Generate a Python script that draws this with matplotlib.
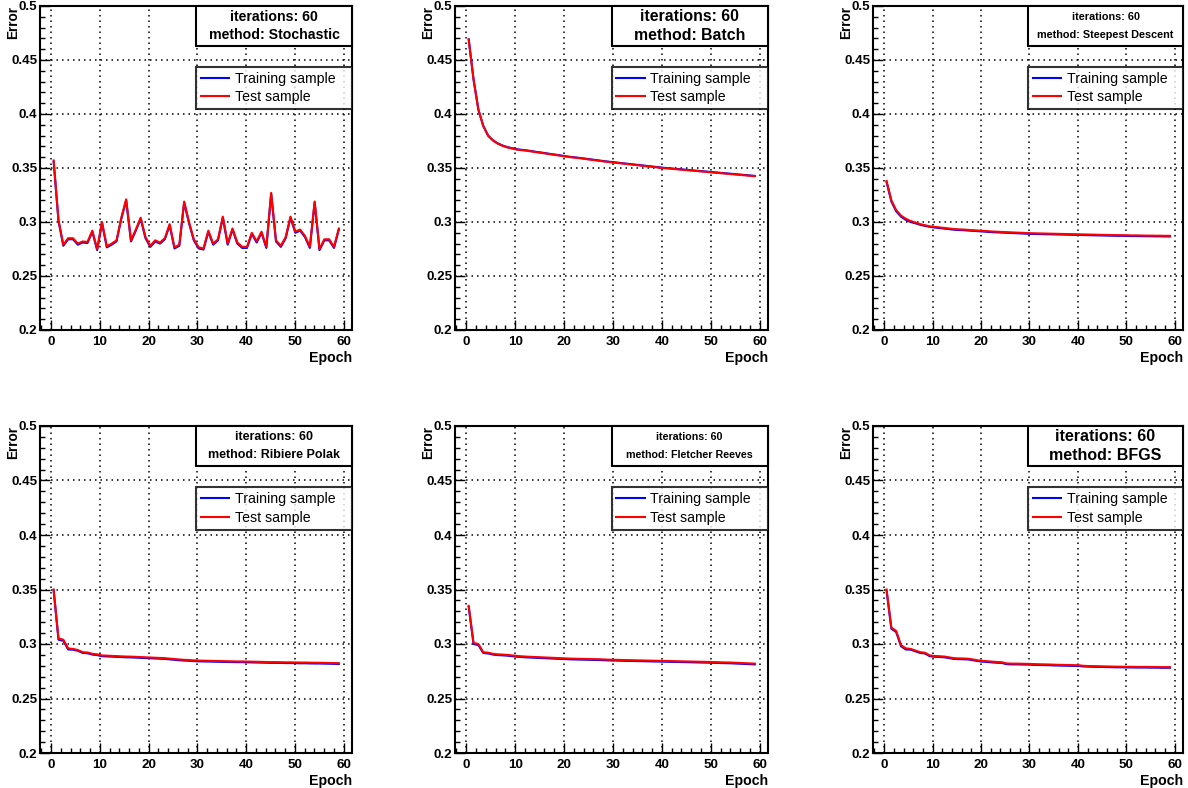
import matplotlib
matplotlib.use("Agg")
import matplotlib.pyplot as plt
from matplotlib.patches import Rectangle
from matplotlib.ticker import MultipleLocator, FuncFormatter
import numpy as np

plt.rcParams['font.family'] = ['Liberation Sans', 'DejaVu Sans']

epochs = np.linspace(0.5, 59, 60)

stochastic_test = [
    0.357, 0.302, 0.279, 0.285, 0.285, 0.280, 0.282, 0.2815, 0.292, 0.275,
    0.300, 0.2775, 0.280, 0.283, 0.304, 0.321, 0.283, 0.293, 0.304, 0.286,
    0.278, 0.283, 0.281, 0.285, 0.298, 0.2765, 0.279, 0.319, 0.300, 0.284,
    0.2765, 0.2755, 0.292, 0.280, 0.284, 0.305, 0.280, 0.294, 0.281, 0.277,
    0.277, 0.290, 0.282, 0.291, 0.277, 0.327, 0.283, 0.278, 0.286, 0.305,
    0.291, 0.293, 0.287, 0.277, 0.319, 0.275, 0.284, 0.284, 0.277, 0.294]
stochastic_train = [
    0.356, 0.301, 0.278, 0.284, 0.284, 0.279, 0.281, 0.2805, 0.291, 0.274,
    0.299, 0.2765, 0.279, 0.282, 0.303, 0.320, 0.282, 0.292, 0.303, 0.285,
    0.277, 0.282, 0.280, 0.284, 0.297, 0.2755, 0.278, 0.318, 0.299, 0.283,
    0.2755, 0.2745, 0.291, 0.279, 0.283, 0.304, 0.279, 0.293, 0.280, 0.276,
    0.276, 0.289, 0.281, 0.290, 0.276, 0.326, 0.282, 0.277, 0.285, 0.304,
    0.290, 0.292, 0.286, 0.276, 0.318, 0.274, 0.283, 0.283, 0.276, 0.293]

batch_test = [
    0.469, 0.432, 0.404, 0.389, 0.380, 0.3755, 0.3725, 0.3705, 0.369, 0.368,
    0.367, 0.3665, 0.366, 0.3653, 0.3646, 0.364, 0.3633, 0.3626, 0.362, 0.3613,
    0.3606, 0.360, 0.3595, 0.359, 0.3584, 0.3578, 0.3572, 0.3566, 0.356, 0.3555,
    0.355, 0.3545, 0.354, 0.3535, 0.353, 0.3525, 0.352, 0.3515, 0.351, 0.3505,
    0.350, 0.3496, 0.3492, 0.3488, 0.3484, 0.348, 0.3476, 0.3472, 0.3468, 0.3464,
    0.346, 0.3456, 0.3452, 0.3448, 0.3444, 0.344, 0.3436, 0.3432, 0.3428, 0.3424]
batch_train = [
    0.469, 0.432, 0.404, 0.389, 0.380, 0.3757, 0.3728, 0.3708, 0.3693, 0.3683,
    0.3673, 0.3668, 0.3663, 0.3656, 0.3649, 0.3643, 0.3636, 0.3629, 0.3623, 0.3616,
    0.3609, 0.3603, 0.3598, 0.3593, 0.3587, 0.3581, 0.3575, 0.3569, 0.3563, 0.3558,
    0.3553, 0.3548, 0.3543, 0.3538, 0.3533, 0.3528, 0.3523, 0.3518, 0.3513, 0.3508,
    0.3503, 0.3499, 0.3495, 0.3491, 0.3487, 0.3483, 0.3479, 0.3475, 0.3471, 0.3467,
    0.3463, 0.3459, 0.3455, 0.3451, 0.3447, 0.3443, 0.3439, 0.3435, 0.3431, 0.3427]

steepest_test = [
    0.338, 0.320, 0.311, 0.306, 0.303, 0.301, 0.2995, 0.298, 0.297, 0.296,
    0.2955, 0.295, 0.2945, 0.294, 0.2935, 0.2932, 0.293, 0.2927, 0.2924, 0.2921,
    0.2918, 0.2915, 0.2912, 0.291, 0.2908, 0.2906, 0.2904, 0.2902, 0.290, 0.2898,
    0.2896, 0.2895, 0.2894, 0.2893, 0.2892, 0.2891, 0.289, 0.2889, 0.2888, 0.2887,
    0.2886, 0.2885, 0.2884, 0.2883, 0.2882, 0.2881, 0.288, 0.2879, 0.2878, 0.2878,
    0.2877, 0.2876, 0.2876, 0.2875, 0.2874, 0.2874, 0.2873, 0.2873, 0.2872, 0.2872]
steepest_train = [
    0.337, 0.319, 0.310, 0.305, 0.302, 0.300, 0.2988, 0.2974, 0.2964, 0.2955,
    0.2949, 0.2944, 0.2939, 0.2934, 0.2929, 0.2926, 0.2924, 0.2921, 0.2918, 0.2915,
    0.2912, 0.2909, 0.2906, 0.2904, 0.2902, 0.29, 0.2898, 0.2896, 0.2894, 0.2892,
    0.289, 0.2889, 0.2888, 0.2887, 0.2886, 0.2885, 0.2884, 0.2883, 0.2882, 0.2881,
    0.288, 0.2879, 0.2878, 0.2877, 0.2876, 0.2875, 0.2874, 0.2873, 0.2872, 0.2872,
    0.2871, 0.287, 0.287, 0.2869, 0.2868, 0.2868, 0.2867, 0.2867, 0.2866, 0.2866]

ribiere_test = [
    0.350, 0.305, 0.304, 0.296, 0.2955, 0.2945, 0.2925, 0.2922, 0.291, 0.2905,
    0.2895, 0.2893, 0.2891, 0.2889, 0.2887, 0.2885, 0.2884, 0.2882, 0.288, 0.2878,
    0.2876, 0.2874, 0.2872, 0.287, 0.2866, 0.2862, 0.2858, 0.2855, 0.2853, 0.285,
    0.2848, 0.2847, 0.2846, 0.2845, 0.2844, 0.2843, 0.2842, 0.2841, 0.284, 0.284,
    0.2839, 0.2838, 0.2837, 0.2836, 0.2835, 0.2834, 0.2834, 0.2833, 0.2832, 0.2832,
    0.2831, 0.283, 0.283, 0.2829, 0.2828, 0.2828, 0.2827, 0.2826, 0.2825, 0.2824]
ribiere_train = [
    0.349, 0.304, 0.303, 0.295, 0.2948, 0.2938, 0.2918, 0.2915, 0.2903, 0.2898,
    0.2888, 0.2886, 0.2884, 0.2882, 0.288, 0.2878, 0.2877, 0.2875, 0.2873, 0.2871,
    0.2869, 0.2867, 0.2865, 0.2863, 0.2859, 0.2855, 0.2851, 0.2848, 0.2846, 0.2843,
    0.2841, 0.284, 0.2839, 0.2838, 0.2837, 0.2836, 0.2835, 0.2834, 0.2833, 0.2833,
    0.2832, 0.2831, 0.283, 0.2829, 0.2828, 0.2827, 0.2827, 0.2826, 0.2825, 0.2825,
    0.2824, 0.2823, 0.2823, 0.2822, 0.2821, 0.2821, 0.282, 0.2819, 0.2818, 0.2817]

fletcher_test = [
    0.335, 0.301, 0.300, 0.2925, 0.292, 0.291, 0.2905, 0.2903, 0.290, 0.2895,
    0.289, 0.2887, 0.2884, 0.2882, 0.288, 0.2878, 0.2876, 0.2874, 0.2872, 0.287,
    0.2868, 0.2866, 0.2865, 0.2864, 0.2863, 0.2862, 0.2861, 0.286, 0.2858, 0.2856,
    0.2855, 0.2854, 0.2853, 0.2852, 0.2851, 0.285, 0.2849, 0.2848, 0.2847, 0.2846,
    0.2845, 0.2844, 0.2843, 0.2842, 0.2841, 0.284, 0.2839, 0.2838, 0.2837, 0.2836,
    0.2835, 0.2834, 0.2832, 0.2831, 0.283, 0.2828, 0.2826, 0.2824, 0.2822, 0.282]
fletcher_train = [
    0.334, 0.300, 0.299, 0.2918, 0.2913, 0.2903, 0.2898, 0.2896, 0.2893, 0.2888,
    0.2883, 0.288, 0.2877, 0.2875, 0.2873, 0.2871, 0.2869, 0.2867, 0.2865, 0.2863,
    0.2861, 0.2859, 0.2858, 0.2857, 0.2856, 0.2855, 0.2854, 0.2853, 0.2851, 0.2849,
    0.2848, 0.2847, 0.2846, 0.2845, 0.2844, 0.2843, 0.2842, 0.2841, 0.284, 0.2839,
    0.2838, 0.2837, 0.2836, 0.2835, 0.2834, 0.2833, 0.2832, 0.2831, 0.283, 0.2829,
    0.2828, 0.2827, 0.2825, 0.2824, 0.2823, 0.2821, 0.2819, 0.2817, 0.2815, 0.2813]

bfgs_test = [
    0.350, 0.315, 0.312, 0.299, 0.296, 0.2955, 0.294, 0.2925, 0.292, 0.2895,
    0.289, 0.2888, 0.2885, 0.2878, 0.287, 0.2868, 0.2867, 0.2865, 0.2858, 0.285,
    0.2845, 0.2842, 0.2838, 0.2835, 0.2833, 0.2822, 0.282, 0.282, 0.2819, 0.2818,
    0.2817, 0.2815, 0.2814, 0.2813, 0.2812, 0.281, 0.2809, 0.2808, 0.2807, 0.2806,
    0.2805, 0.280, 0.2798, 0.2797, 0.2796, 0.2795, 0.2794, 0.2793, 0.2792, 0.2792,
    0.2791, 0.2791, 0.279, 0.279, 0.279, 0.2789, 0.2789, 0.2788, 0.2788, 0.2788]
bfgs_train = [
    0.349, 0.314, 0.311, 0.298, 0.295, 0.2948, 0.2933, 0.2918, 0.2913, 0.2888,
    0.2883, 0.2881, 0.2878, 0.2871, 0.2863, 0.2861, 0.286, 0.2858, 0.2851, 0.2843,
    0.2838, 0.2835, 0.2831, 0.2828, 0.2826, 0.2815, 0.2813, 0.2813, 0.2812, 0.2811,
    0.281, 0.2808, 0.2807, 0.2806, 0.2805, 0.2803, 0.2802, 0.2801, 0.28, 0.2799,
    0.2798, 0.2794, 0.2792, 0.2791, 0.279, 0.2789, 0.2788, 0.2787, 0.2786, 0.2786,
    0.2785, 0.2785, 0.2784, 0.2784, 0.2784, 0.2783, 0.2783, 0.2782, 0.2782, 0.2782]

methods = ["Stochastic", "Batch", "Steepest Descent",
           "Ribiere Polak", "Fletcher Reeves", "BFGS"]
test_series = [stochastic_test, batch_test, steepest_test,
               ribiere_test, fletcher_test, bfgs_test]
train_series = [stochastic_train, batch_train, steepest_train,
                ribiere_train, fletcher_train, bfgs_train]
# ROOT shrinks the box text to fit, so each panel has its own size
text_sizes = [10.2, 11.4, 7.8, 9.0, 7.7, 11.5]

W, H = 1188, 788
col_left = [40, 455, 873]
col_right = [352, 768, 1183]
row_top = [6, 426]
row_bottom = [330, 753]

dots = (0, (1, 2.6))


def y_fmt(v, pos):
    return f"{v:.2f}".rstrip("0").rstrip(".")


def draw_panel(ax, train, test, method, tsize):
    ax.plot(epochs, train, color="#0000ff", lw=1.5, label="Training sample", zorder=3)
    ax.plot(epochs, test, color="#ff0000", lw=1.5, label="Test sample", zorder=4)
    ax.set_xlim(-2.3, 61.7)
    ax.set_ylim(0.2, 0.5)
    ax.xaxis.set_major_locator(MultipleLocator(10))
    ax.xaxis.set_minor_locator(MultipleLocator(2))
    ax.yaxis.set_major_locator(MultipleLocator(0.05))
    ax.yaxis.set_minor_locator(MultipleLocator(0.01))
    ax.yaxis.set_major_formatter(FuncFormatter(y_fmt))
    ax.tick_params(which="both", direction="in", top=False, right=False,
                   labelsize=9.6, width=1.0)
    ax.tick_params(which="major", length=7)
    ax.tick_params(which="minor", length=3.5)
    ax.tick_params(axis="x", pad=4)
    ax.tick_params(axis="y", pad=2)
    for lab in ax.get_xticklabels() + ax.get_yticklabels():
        lab.set_fontweight("bold")
    ax.grid(True, which="major", color="black", linestyle=dots, lw=1.1)
    for sp in ax.spines.values():
        sp.set_linewidth(1.5)

    ax.text(-0.087, 1.0, "Error", transform=ax.transAxes, rotation=90,
            ha="center", va="top", fontsize=9.8, fontweight="bold")
    ax.text(1.0, -0.086, "Epoch", transform=ax.transAxes,
            ha="right", va="center", fontsize=10.2, fontweight="bold")

    ax.add_patch(Rectangle((0.5, 0.877), 0.5, 0.123, transform=ax.transAxes,
                           facecolor="white", edgecolor="black", lw=1.5,
                           zorder=5, clip_on=False))
    ax.text(0.75, 0.967, "iterations: 60", transform=ax.transAxes,
            ha="center", va="center", fontsize=tsize, fontweight="bold", zorder=6)
    ax.text(0.75, 0.910, "method: " + method, transform=ax.transAxes,
            ha="center", va="center", fontsize=tsize, fontweight="bold", zorder=6)

    leg = ax.legend(loc="upper left", bbox_to_anchor=(0.5, 0.688, 0.5, 0.124),
                    mode="expand", fontsize=10.2, frameon=True, fancybox=False,
                    borderaxespad=0, handlelength=2.0, handletextpad=0.4,
                    labelspacing=0.3, borderpad=0.35)
    leg.get_frame().set_edgecolor("black")
    leg.get_frame().set_linewidth(1.5)
    leg.set_zorder(6)


fig = plt.figure(figsize=(W / 100, H / 100), dpi=100)
for i in range(6):
    r, c = divmod(i, 3)
    l, rr = col_left[c], col_right[c]
    t, b = row_top[r], row_bottom[r]
    ax = fig.add_axes([l / W, 1 - b / H, (rr - l) / W, (b - t) / H])
    draw_panel(ax, train_series[i], test_series[i], methods[i], text_sizes[i])

fig.savefig("out.png", dpi=100)
